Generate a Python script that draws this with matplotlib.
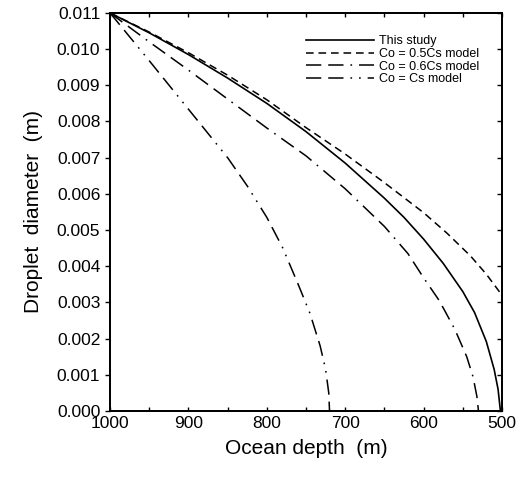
import matplotlib
matplotlib.use("Agg")
import matplotlib.pyplot as plt
from matplotlib.ticker import MultipleLocator

plt.rcParams["font.family"] = ["Liberation Sans", "DejaVu Sans"]
plt.rcParams["lines.scale_dashes"] = False

# ocean depth (m) vs droplet diameter (m)
depth_study = [1000, 950, 900, 850, 800, 750, 700, 650, 625, 600, 575, 550, 535, 520,
               510, 505, 502]
diam_study = [0.01100, 0.01045, 0.00985, 0.00920, 0.00850, 0.00772, 0.00685, 0.00588,
              0.00535, 0.00475, 0.00408, 0.00330, 0.00272, 0.00192, 0.00115, 0.00060,
              0.0]

depth_05 = [1000, 950, 900, 850, 800, 750, 700, 650, 600, 570, 540, 520, 500]
diam_05 = [0.01100, 0.01047, 0.00990, 0.00928, 0.00860, 0.00783, 0.00710, 0.00631,
           0.00548, 0.00491, 0.00428, 0.00378, 0.00320]

depth_06 = [1000, 950, 900, 850, 800, 750, 700, 650, 620, 600, 580, 560, 545, 537,
            532, 530]
diam_06 = [0.01100, 0.01020, 0.00942, 0.00862, 0.00782, 0.00705, 0.00614, 0.00510,
           0.00435, 0.00368, 0.00305, 0.00225, 0.00150, 0.00095, 0.00040, 0.0]

depth_cs = [1000, 950, 900, 850, 825, 800, 780, 760, 745, 732, 725, 721, 720]
diam_cs = [0.01100, 0.00968, 0.00834, 0.00700, 0.00622, 0.00535, 0.00452, 0.00350,
           0.00270, 0.00180, 0.00115, 0.00050, 0.0]

fig = plt.figure(figsize=(5.24, 4.79), dpi=100)
ax = fig.add_axes([0.21, 0.142, 0.748, 0.831])

ax.plot(depth_study, diam_study, color="black", lw=1.2, label="This study")
ax.plot(depth_05, diam_05, color="black", lw=1.1, dashes=(5.5, 3.5),
        label="Co = 0.5Cs model")
ax.plot(depth_06, diam_06, color="black", lw=1.1, dashes=(11, 5, 11, 5, 1.2, 5),
        label="Co = 0.6Cs model")
ax.plot(depth_cs, diam_cs, color="black", lw=1.1,
        dashes=(11, 5, 11, 5, 1.2, 5, 1.2, 5), label="Co = Cs model")

ax.set_xlim(1000, 500)
ax.set_ylim(0, 0.011)
ax.xaxis.set_major_locator(MultipleLocator(100))
ax.xaxis.set_minor_locator(MultipleLocator(50))
ax.yaxis.set_major_locator(MultipleLocator(0.001))
ax.yaxis.set_major_formatter(plt.FormatStrFormatter("%.3f"))

ax.tick_params(axis="both", which="both", labelsize=12.5, width=1.0)
ax.tick_params(axis="y", which="major", direction="out", length=3.5)
ax.tick_params(axis="x", which="both", direction="in", length=3, top=True)
for side in ["left", "bottom", "top", "right"]:
    ax.spines[side].set_linewidth(1.3)

# right side ticks point inward
tw = ax.twinx()
tw.set_ylim(ax.get_ylim())
tw.yaxis.set_major_locator(MultipleLocator(0.001))
tw.tick_params(axis="y", direction="in", length=3.5, width=1.0, labelright=False)
for side in ["left", "bottom", "top", "right"]:
    tw.spines[side].set_linewidth(1.3)

ax.set_xlabel("Ocean depth  (m)", fontsize=15, labelpad=6)
ax.set_ylabel("Droplet  diameter  (m)", fontsize=15, labelpad=10)

leg = ax.legend(loc="upper right", bbox_to_anchor=(0.97, 0.972), frameon=False,
                fontsize=9, handlelength=5.4, handletextpad=0.4, labelspacing=0.05)

fig.savefig("out.png", dpi=100)
